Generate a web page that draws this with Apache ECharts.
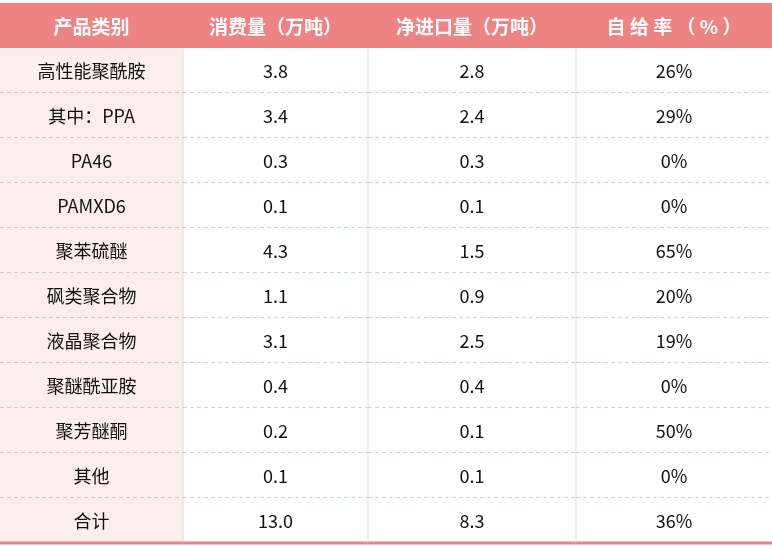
<!DOCTYPE html>
<html><head><meta charset="utf-8">
<script src="https://cdn.jsdelivr.net/npm/echarts@6/dist/echarts.min.js"></script>
<style>html,body{margin:0;padding:0;background:#fff}#c{width:772px;height:549px}</style>
</head><body><div id="c"></div>
<script>
const headers = ['产品类别','消费量（万吨）','净进口量（万吨）','自 给 率 （ % ）'];
const categories = ['高性能聚酰胺','其中：PPA','PA46','PAMXD6','聚苯硫醚','砜类聚合物','液晶聚合物','聚醚酰亚胺','聚芳醚酮','其他','合计'];
const consumption = ['3.8','3.4','0.3','0.1','4.3','1.1','3.1','0.4','0.2','0.1','13.0'];
const netImport = ['2.8','2.4','0.3','0.1','1.5','0.9','2.5','0.4','0.1','0.1','8.3'];
const selfRate = ['26%','29%','0%','0%','65%','20%','19%','0%','50%','0%','36%'];
const colEdges = [0,183,368,576,772];

const rows = [headers];
categories.forEach((c,i)=>rows.push([c,consumption[i],netImport[i],selfRate[i]]));
const rowNames = rows.map((r,i)=>'r'+i);
const data = [];
rows.forEach((r,ri)=>r.forEach((t,ci)=>data.push([ci,ri,t])));

const chart = echarts.init(document.getElementById('c'));
chart.setOption({
  animation:false,
  grid:{left:0,right:0,top:3,bottom:6},
  xAxis:{type:'value',min:0,max:772,show:false},
  yAxis:{type:'category',data:rowNames,inverse:true,show:false},
  series:[{
    type:'custom',
    data:data,
    encode:{x:0,y:1},
    renderItem:function(params,api){
      const ci=api.value(0), ri=api.value(1), text=rows[ri][ci];
      const h=api.size([0,1])[1];
      const p0=api.coord([colEdges[ci],ri]);
      const p1=api.coord([colEdges[ci+1],ri]);
      const x0=p0[0], x1=p1[0], y0=p0[1]-h/2, y1=y0+h;
      const last = ri===rows.length-1;
      const children=[];
      let bg = ri===0 ? '#ee8383' : (ci===0 ? '#fdeeee' : '#ffffff');
      children.push({type:'rect',shape:{x:x0,y:y0,width:x1-x0,height:h},style:{fill:bg}});
      if(ri>0){
        if(ci>0) children.push({type:'line',shape:{x1:x0,y1:y0,x2:x0,y2:y1},style:{stroke:'#dddddd',lineWidth:1}});
        if(!last) children.push({type:'line',shape:{x1:x0,y1:y1,x2:x1,y2:y1},style:{stroke:'#de8a8a',lineWidth:1,lineDash:[4,3]}});
        else children.push({type:'line',shape:{x1:x0,y1:y1,x2:x1,y2:y1},style:{stroke:'#e88484',lineWidth:3}});
      }
      children.push({type:'text',style:{text:text,x:(x0+x1)/2,y:y0+h/2+1,align:'center',verticalAlign:'middle',
        fill:ri===0?'#ffffff':'#111111',
        font:(ri===0?'bold 19px':'18px')+' "Noto Sans CJK SC","Noto Sans",sans-serif'}});
      return {type:'group',children:children};
    }
  }]
});
</script></body></html>
